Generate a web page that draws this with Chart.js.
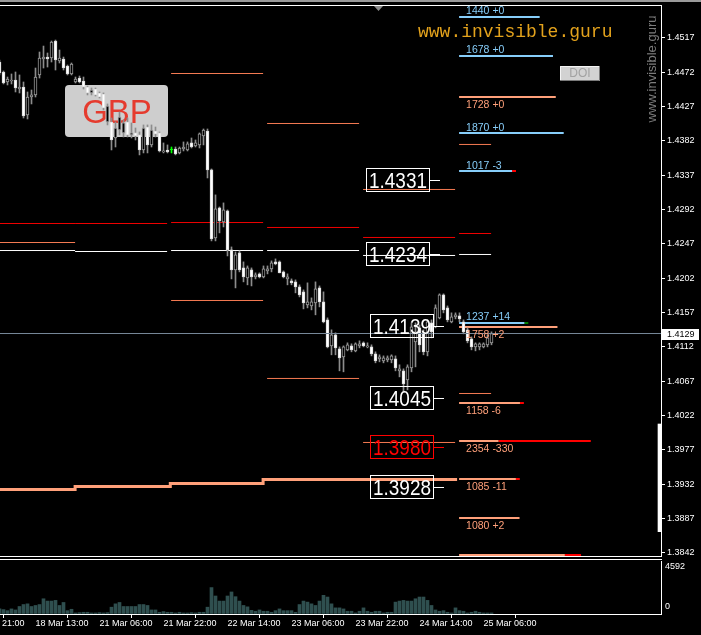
<!DOCTYPE html>
<html>
<head>
<meta charset="utf-8">
<script src="https://cdn.jsdelivr.net/npm/chart.js@4.4.1/dist/chart.umd.min.js"></script>
<style>
  html, body { margin: 0; padding: 0; background: #000; }
  body { width: 701px; height: 635px; position: relative; overflow: hidden; }
  canvas { position: absolute; left: 0; }
  #main { top: 0; }
  #vol { top: 559px; }
</style>
</head>
<body>
<canvas id="main" width="701" height="558"></canvas>
<canvas id="vol" width="701" height="76"></canvas>
<script>
// ===============================
// DATA (GBPUSD H1, first bar is index -1)
// ===============================
const firstBar = -1;

const opens = [
  1.44852, 1.44721, 1.44590, 1.44603, 1.44616, 1.44498, 1.44524, 1.44158, 1.44393, 1.44420,
  1.44682, 1.44891, 1.44917, 1.44904, 1.45127, 1.44865, 1.44891, 1.44799, 1.44695, 1.44590,
  1.44642, 1.44603, 1.44524, 1.44446, 1.44498, 1.44446, 1.44433, 1.44066, 1.44066, 1.43856,
  1.43961, 1.43922, 1.44066, 1.43896, 1.43922, 1.43896, 1.43699, 1.44000, 1.43765, 1.43948,
  1.43922, 1.43673, 1.43699, 1.43699, 1.43712, 1.43660, 1.43712, 1.43699, 1.43791, 1.43751,
  1.43765, 1.43882, 1.43948, 1.43437, 1.42546, 1.42939, 1.42756, 1.42900, 1.42389, 1.42127,
  1.42350, 1.42153, 1.42022, 1.42127, 1.42035, 1.42075, 1.42035, 1.42114, 1.42140, 1.42232,
  1.42232, 1.42101, 1.42009, 1.41983, 1.41970, 1.41904, 1.41839, 1.41669, 1.41655, 1.41695,
  1.41891, 1.41708, 1.41472, 1.41131, 1.41276, 1.41092, 1.40987, 1.41079, 1.41131, 1.41066,
  1.41131, 1.41171, 1.41118, 1.41118, 1.41027, 1.40961, 1.40935, 1.40948, 1.40948, 1.40961,
  1.40804, 1.40804, 1.40686, 1.40843, 1.41184, 1.41367, 1.41302, 1.41053, 1.41433, 1.41380,
  1.41498, 1.41800, 1.41629, 1.41446, 1.41511, 1.41524, 1.41446, 1.41341, 1.41223, 1.41118,
  1.41118, 1.41118, 1.41145, 1.41171
];
const highs = [
  1.44878, 1.44734, 1.44655, 1.44695, 1.44721, 1.44682, 1.44590, 1.44459, 1.44485, 1.44773,
  1.44983, 1.45061, 1.44970, 1.45127, 1.45140, 1.45009, 1.44917, 1.44813, 1.44839, 1.44655,
  1.44668, 1.44655, 1.44537, 1.44511, 1.44511, 1.44459, 1.44446, 1.44302, 1.44118, 1.44066,
  1.44197, 1.44092, 1.44118, 1.44053, 1.43987, 1.43935, 1.44027, 1.44027, 1.44027, 1.44000,
  1.43935, 1.43791, 1.43765, 1.43738, 1.43738, 1.43738, 1.43804, 1.43804, 1.43856, 1.43830,
  1.43922, 1.43974, 1.43974, 1.43450, 1.43110, 1.42952, 1.43005, 1.42913, 1.42428, 1.42363,
  1.42376, 1.42232, 1.42179, 1.42153, 1.42088, 1.42088, 1.42179, 1.42179, 1.42245, 1.42271,
  1.42245, 1.42114, 1.42075, 1.42009, 1.41996, 1.41931, 1.41865, 1.41957, 1.41760, 1.41970,
  1.41917, 1.41839, 1.41498, 1.41341, 1.41302, 1.41118, 1.41131, 1.41171, 1.41158, 1.41171,
  1.41197, 1.41184, 1.41171, 1.41145, 1.41053, 1.41014, 1.41000, 1.41000, 1.41014, 1.41000,
  1.40883, 1.40830, 1.40883, 1.41433, 1.41433, 1.41407, 1.41341, 1.41472, 1.41472, 1.41669,
  1.41813, 1.41813, 1.41655, 1.41564, 1.41564, 1.41564, 1.41472, 1.41367, 1.41249, 1.41171,
  1.41171, 1.41171, 1.41276, 1.41315
];
const lows = [
  1.44682, 1.44564, 1.44551, 1.44564, 1.44459, 1.44446, 1.44118, 1.44105, 1.44302, 1.44393,
  1.44642, 1.44773, 1.44786, 1.44852, 1.44747, 1.44839, 1.44747, 1.44682, 1.44682, 1.44577,
  1.44577, 1.44498, 1.44420, 1.44420, 1.44406, 1.44380, 1.44223, 1.44027, 1.43699, 1.43738,
  1.43896, 1.43869, 1.43869, 1.43856, 1.43830, 1.43634, 1.43660, 1.43660, 1.43738, 1.43869,
  1.43673, 1.43660, 1.43660, 1.43660, 1.43634, 1.43647, 1.43686, 1.43686, 1.43725, 1.43738,
  1.43725, 1.43765, 1.43332, 1.42507, 1.42507, 1.42612, 1.42690, 1.42310, 1.42009, 1.41891,
  1.42101, 1.41970, 1.41931, 1.41917, 1.42009, 1.42022, 1.42022, 1.42075, 1.42101, 1.42193,
  1.42088, 1.42022, 1.41931, 1.41931, 1.41826, 1.41773, 1.41616, 1.41629, 1.41603, 1.41538,
  1.41642, 1.41433, 1.41105, 1.41014, 1.41014, 1.40804, 1.40791, 1.41066, 1.41053, 1.41053,
  1.41105, 1.41118, 1.41105, 1.41000, 1.40909, 1.40922, 1.40909, 1.40922, 1.40909, 1.40804,
  1.40725, 1.40529, 1.40555, 1.40791, 1.40856, 1.41053, 1.41014, 1.41000, 1.41236, 1.41367,
  1.41485, 1.41564, 1.41446, 1.41433, 1.41485, 1.41446, 1.41289, 1.41171, 1.41079, 1.41066,
  1.41079, 1.41105, 1.41118, 1.41145
];
const closes = [
  1.44708, 1.44577, 1.44629, 1.44616, 1.44511, 1.44524, 1.44144, 1.44393, 1.44420, 1.44655,
  1.44904, 1.44917, 1.44891, 1.45114, 1.44878, 1.44904, 1.44773, 1.44695, 1.44826, 1.44629,
  1.44590, 1.44524, 1.44446, 1.44485, 1.44420, 1.44393, 1.44249, 1.44275, 1.43830, 1.43987,
  1.44131, 1.44053, 1.43896, 1.43922, 1.43882, 1.43699, 1.43987, 1.43765, 1.43961, 1.43909,
  1.43686, 1.43686, 1.43673, 1.43699, 1.43647, 1.43725, 1.43738, 1.43778, 1.43738, 1.43791,
  1.43909, 1.43961, 1.43437, 1.42533, 1.42926, 1.42769, 1.42913, 1.42389, 1.42127, 1.42324,
  1.42127, 1.42035, 1.42153, 1.42035, 1.42062, 1.42035, 1.42140, 1.42140, 1.42219, 1.42206,
  1.42088, 1.42035, 1.42035, 1.41957, 1.41904, 1.41800, 1.41695, 1.41708, 1.41708, 1.41878,
  1.41708, 1.41446, 1.41118, 1.41276, 1.41105, 1.40974, 1.41118, 1.41145, 1.41079, 1.41158,
  1.41158, 1.41131, 1.41131, 1.41027, 1.40935, 1.40987, 1.40974, 1.40974, 1.41000, 1.40843,
  1.40830, 1.40634, 1.40856, 1.41380, 1.41315, 1.41145, 1.41053, 1.41446, 1.41315, 1.41629,
  1.41800, 1.41603, 1.41472, 1.41511, 1.41538, 1.41485, 1.41315, 1.41197, 1.41118, 1.41158,
  1.41158, 1.41158, 1.41236, 1.41293
];
const volumes = [
  440, 380, 290, 440, 350, 650, 820, 880, 650, 740,
  820, 1320, 1120, 1120, 1180, 740, 1000, 290, 410, 90,
  120, 150, 150, 90, 90, 120, 90, 120, 590, 880,
  1000, 650, 650, 650, 650, 820, 820, 740, 350, 350,
  150, 210, 150, 150, 90, 150, 90, 90, 120, 90,
  150, 150, 590, 2290, 1560, 1120, 1120, 1560, 1910, 1500,
  1120, 740, 620, 320, 240, 350, 240, 240, 150, 290,
  440, 290, 290, 290, 150, 820, 1120, 1030, 880, 740,
  1120, 1620, 1470, 880, 530, 530, 440, 240, 240, 90,
  240, 530, 240, 150, 240, 240, 90, 150, 150, 1030,
  1120, 1180, 1120, 1120, 1320, 1470, 1470, 1180, 740, 350,
  240, 290, 150, 90, 530, 290, 240, 90, 150, 240,
  150, 90, 90, 90
];
const volumeMax = 4592;

// axis ticks
const priceTicks = [1.3842, 1.3887, 1.3932, 1.3977, 1.4022, 1.4067, 1.4112, 1.4157,
                    1.4202, 1.4247, 1.4292, 1.4337, 1.4382, 1.4427, 1.4472, 1.4517];
const timeTicks = [-8, 8, 24, 40, 56, 72, 88, 104, 120];
const timeLabels = ['17 Mar 21:00', '18 Mar 13:00', '21 Mar 06:00', '21 Mar 22:00', '22 Mar 14:00',
                    '23 Mar 06:00', '23 Mar 22:00', '24 Mar 14:00', '25 Mar 06:00'];

// daily levels (bar ranges)
const segStart = [-0.9, 17.9, 41.9, 65.9, 89.9, 113.9];
const segEnd   = [17.9, 40.9, 64.9, 88.9, 112.9, 121.9];
const segUpper = [null, null, 1.44701, 1.44046, 1.43181, 1.43771];
const segRed   = [1.42735, 1.42735, 1.42748, 1.42683, 1.42552, 1.42604];
const segWhite = [1.42381, 1.42368, 1.42381, 1.42381, 1.42316, 1.42329];
const segLower = [1.42486, null, 1.41726, 1.40704, 1.39865, 1.40507];

// thick stepped level
const stepBars   = [-0.9, 17.9, 41.7, 64.9, 113.4];
const stepLevels = [1.39249, 1.39288, 1.39327, 1.39380, 1.39380];

// option open interest levels (today)
const todayStart = 113.9;
const oiPrice  = [1.45442, 1.44931, 1.44393, 1.43921, 1.43423, 1.41431, 1.41379, 1.40382, 1.39884, 1.39386, 1.38875, 1.38390];
const oiSide   = ['C', 'C', 'P', 'C', 'C', 'C', 'P', 'P', 'P', 'P', 'P', 'P'];
const oiOpen   = [1440, 1678, 1728, 1870, 1017, 1237, 1758, 1158, 2354, 1085, 1080, 2180];
const oiChange = [0, 0, 0, 0, -3, 14, 2, -6, -330, -11, 2, -20];
const oiTail   = [0, 0, 0, 0, 70, 70, 0, 70, 1650, 70, 0, 290];

// key price levels
const levelPrices = [1.4331, 1.4234, 1.4139, 1.4045, 1.3980, 1.3928];
const levelAlert  = [false, false, false, false, true, false];

// range marker on the right edge
const rangeBar = { bar: 164, low: 1.38696, high: 1.40107 };

// ===============================
// SETUP
// ===============================
const FONT = '"Liberation Sans", Arial, sans-serif';
Chart.defaults.font.family = FONT;
const X_MIN = -0.875, X_MAX = 164.375;
const Y_MIN = 1.38377, Y_MAX = 1.45599;
const OI_PER_BAR = 71.5;

const barIndex = opens.map((_, k) => firstBar + k);
const lastClose = closes[closes.length - 1];

function hLine(x0, x1, y, color, width, order) {
    return {
        type: 'line',
        data: [{ x: x0, y: y }, { x: x1, y: y }],
        borderColor: color,
        borderWidth: width,
        pointRadius: 0,
        fill: false,
        order: order
    };
}

const datasets = [];

// ---- daily levels ----
segStart.forEach((s, k) => {
    const e = segEnd[k];
    if (segUpper[k] != null) datasets.push(hLine(s, e, segUpper[k], '#f47a52', 1, 10));
    datasets.push(hLine(s, e, segRed[k], '#ee0000', 1, 10));
    datasets.push(hLine(s, e, segWhite[k], '#ffffff', 1, 10));
    if (segLower[k] != null) datasets.push(hLine(s, e, segLower[k], '#f47a52', 1, 10));
});

// ---- stepped line ----
datasets.push({
    type: 'line',
    data: stepBars.map((x, k) => ({ x: x, y: stepLevels[k] })),
    stepped: 'before',
    borderColor: '#ffa07a',
    borderWidth: 3,
    pointRadius: 0,
    fill: false,
    order: 9
});

// ---- open interest lines ----
oiPrice.forEach((p, k) => {
    const end = todayStart + oiOpen[k] / OI_PER_BAR;
    const mid = end - oiTail[k] / OI_PER_BAR;
    const base = oiSide[k] === 'C' ? '#87cefa' : '#ffa07a';
    datasets.push(hLine(todayStart, mid, p, base, 2, 8));
    if (oiTail[k] > 0) {
        datasets.push(hLine(mid, end, p, oiChange[k] < 0 ? '#ff0000' : '#008000', 2, 8));
    }
});

// ---- range marker ----
datasets.push({
    type: 'bar',
    data: [{ x: rangeBar.bar, y: [rangeBar.low, rangeBar.high] }],
    backgroundColor: '#ffffff',
    barThickness: 3,
    grouped: false,
    order: 7
});

// ---- candles ----
datasets.push({
    type: 'bar',
    data: barIndex.map((x, k) => ({ x: x, y: [lows[k], highs[k]] })),
    backgroundColor: ctx => opens[ctx.dataIndex] === closes[ctx.dataIndex] ? '#00ff00' : '#8c8c8c',
    barThickness: 1,
    grouped: false,
    order: 3
});
datasets.push({
    type: 'bar',
    data: barIndex.map((x, k) => ({ x: x, y: [opens[k], closes[k]] })),
    backgroundColor: ctx => {
        const k = ctx.dataIndex;
        if (opens[k] === closes[k]) return '#00ff00';
        return closes[k] < opens[k] ? '#ffffff' : '#000000';
    },
    borderColor: ctx => {
        const k = ctx.dataIndex;
        if (opens[k] === closes[k]) return '#00ff00';
        return closes[k] < opens[k] ? '#dcdcdc' : '#9a9a9a';
    },
    borderWidth: 1,
    borderSkipped: false,
    minBarLength: 1,
    barThickness: 3,
    grouped: false,
    order: 2
});

// ---- bid line ----
datasets.push(hLine(X_MIN, X_MAX, lastClose, '#778899', 1, 1));

// ===============================
// DECORATION PLUGINS
// ===============================
const mainDecor = {
    id: 'mainDecor',
    beforeDatasetsDraw(chart) {
        const ctx = chart.ctx;
        ctx.save();
        // GBP badge
        ctx.fillStyle = '#cecece';
        ctx.beginPath();
        if (ctx.roundRect) ctx.roundRect(65, 85, 103, 52, 4); else ctx.rect(65, 85, 103, 52);
        ctx.fill();
        ctx.fillStyle = '#e53b2e';
        ctx.font = '33px "Liberation Sans"';
        ctx.textAlign = 'center';
        ctx.textBaseline = 'alphabetic';
        ctx.fillText('GBP', 117, 123);

        // site name
        ctx.fillStyle = '#e3a21c';
        ctx.font = '18px "Liberation Mono"';
        ctx.textAlign = 'left';
        ctx.fillText('www.invisible.guru', 418, 37);

        // DOI button
        ctx.fillStyle = '#d2d2d2';
        ctx.fillRect(560, 66, 40, 15);
        ctx.strokeStyle = '#f4f4f4';
        ctx.beginPath();
        ctx.moveTo(560.5, 80); ctx.lineTo(560.5, 66.5); ctx.lineTo(599, 66.5);
        ctx.stroke();
        ctx.strokeStyle = '#7a7a7a';
        ctx.beginPath();
        ctx.moveTo(560, 80.5); ctx.lineTo(599.5, 80.5); ctx.lineTo(599.5, 66);
        ctx.stroke();
        ctx.fillStyle = '#a2a2a2';
        ctx.font = '12px "Liberation Sans"';
        ctx.textAlign = 'center';
        ctx.textBaseline = 'middle';
        ctx.fillText('DOI', 580, 74);

        // vertical watermark
        ctx.translate(652, 69);
        ctx.rotate(-Math.PI / 2);
        ctx.fillStyle = '#7c7c7c';
        ctx.font = '13px "Liberation Sans"';
        ctx.fillText('www.invisible.guru', 0, 0);
        ctx.restore();
    },
    afterDatasetsDraw(chart) {
        const { ctx, chartArea } = chart;
        const xs = chart.scales.x, ys = chart.scales.y;
        const boxLeft = [366, 366, 370, 370, 370, 370];
        ctx.save();
        // key level boxes
        levelPrices.forEach((p, k) => {
            const py = Math.round(ys.getPixelForValue(p));
            const left = boxLeft[k];
            const col = levelAlert[k] ? '#ff0000' : '#ffffff';
            ctx.strokeStyle = col;
            ctx.lineWidth = 1;
            ctx.strokeRect(left + 0.5, py - 11.5, 63, 23);
            ctx.beginPath();
            ctx.moveTo(left + 64, py + 0.5);
            ctx.lineTo(left + 74, py + 0.5);
            ctx.stroke();
            ctx.fillStyle = col;
            ctx.font = '22px "Liberation Sans"';
            ctx.textAlign = 'left';
            ctx.textBaseline = 'alphabetic';
            ctx.fillText(p.toFixed(4), left + 3, py + 8, 58);
        });

        // open interest labels
        ctx.font = '10.5px "Liberation Sans"';
        ctx.textAlign = 'left';
        ctx.textBaseline = 'alphabetic';
        const x0 = xs.getPixelForValue(todayStart) + 7;
        oiPrice.forEach((p, k) => {
            const py = ys.getPixelForValue(p);
            const ty = oiSide[k] === 'C' ? py - 2.5 : py + 11;
            if (ty > chartArea.bottom) return;
            ctx.fillStyle = oiSide[k] === 'C' ? '#87cefa' : '#ffa07a';
            const sign = oiChange[k] >= 0 ? '+' : '';
            ctx.fillText(oiOpen[k] + ' ' + sign + oiChange[k], x0, ty);
        });
        ctx.restore();
    },
    afterDraw(chart) {
        const { ctx, chartArea: a } = chart;
        const ys = chart.scales.y;
        ctx.save();
        // frame
        ctx.fillStyle = '#9a9a9a';
        ctx.fillRect(0, 0, chart.width, 2);
        ctx.strokeStyle = '#ffffff';
        ctx.lineWidth = 1;
        ctx.beginPath();
        ctx.moveTo(0, a.top + 0.5); ctx.lineTo(a.right + 1, a.top + 0.5);
        ctx.moveTo(0, a.bottom + 0.5); ctx.lineTo(a.right + 1, a.bottom + 0.5);
        ctx.stroke();
        // shift marker
        ctx.fillStyle = '#8c8c8c';
        ctx.beginPath();
        ctx.moveTo(374, 6); ctx.lineTo(383, 6); ctx.lineTo(378.5, 11);
        ctx.closePath();
        ctx.fill();
        // bid label
        const py = Math.round(ys.getPixelForValue(lastClose));
        ctx.fillStyle = '#ffffff';
        ctx.fillRect(a.right + 1, py - 5, 37, 11);
        ctx.fillStyle = '#000000';
        ctx.font = '9px "Liberation Sans"';
        ctx.textAlign = 'left';
        ctx.textBaseline = 'middle';
        ctx.fillText(lastClose.toFixed(4), a.right + 6, py + 0.5);
        ctx.restore();
    }
};

const volDecor = {
    id: 'volDecor',
    afterDraw(chart) {
        const { ctx, chartArea: a } = chart;
        const ys = chart.scales.y;
        ctx.save();
        ctx.strokeStyle = '#ffffff';
        ctx.lineWidth = 1;
        ctx.beginPath();
        ctx.moveTo(0, 0.5); ctx.lineTo(a.right + 1, 0.5);
        ctx.stroke();
        ctx.fillStyle = '#ffffff';
        ctx.font = '9px "Liberation Sans"';
        ctx.textAlign = 'left';
        ctx.textBaseline = 'middle';
        ctx.fillText(String(volumeMax), a.right + 4, ys.getPixelForValue(volumeMax) + 6);
        ctx.fillText('0', a.right + 4, ys.getPixelForValue(0) - 7);
        ctx.restore();
    }
};

// ===============================
// CHARTS
// ===============================
new Chart(document.getElementById('main'), {
    type: 'bar',
    data: { datasets: datasets },
    options: {
        responsive: false,
        animation: false,
        events: [],
        layout: { padding: { top: 5, bottom: 2, left: 0, right: 0 } },
        plugins: { legend: { display: false }, tooltip: { enabled: false } },
        scales: {
            x: { type: 'linear', min: X_MIN, max: X_MAX, offset: false, display: false },
            y: {
                position: 'right',
                min: Y_MIN,
                max: Y_MAX,
                afterFit: s => { s.width = 40; s.paddingTop = 0; s.paddingBottom = 0; },
                afterBuildTicks: s => { s.ticks = priceTicks.map(v => ({ value: v })); },
                ticks: {
                    color: '#ffffff',
                    font: { size: 9 },
                    padding: 2,
                    autoSkip: false,
                    callback: v => Number(v).toFixed(4)
                },
                grid: { drawOnChartArea: false, color: '#ffffff', tickLength: 4 },
                border: { color: '#ffffff' }
            }
        }
    },
    plugins: [mainDecor]
});

new Chart(document.getElementById('vol'), {
    type: 'bar',
    data: {
        datasets: [{
            data: barIndex.map((x, k) => ({ x: x, y: volumes[k] })),
            backgroundColor: '#2f4f4f',
            barThickness: 3,
            grouped: false
        }]
    },
    options: {
        responsive: false,
        animation: false,
        events: [],
        layout: { padding: { top: 2, bottom: 0, left: 0, right: 0 } },
        plugins: { legend: { display: false }, tooltip: { enabled: false } },
        scales: {
            x: {
                type: 'linear',
                min: X_MIN,
                max: X_MAX,
                offset: false,
                afterBuildTicks: s => { s.ticks = timeTicks.map(v => ({ value: v })); },
                afterFit: s => { s.height = 21; s.paddingLeft = 0; s.paddingRight = 0; },
                ticks: {
                    autoSkip: false,
                    maxRotation: 0,
                    align: 'start',
                    padding: 0,
                    color: '#ffffff',
                    font: { size: 9 },
                    callback: (v, i) => timeLabels[i]
                },
                grid: { drawOnChartArea: false, color: '#ffffff', tickLength: 4 },
                border: { color: '#ffffff' }
            },
            y: {
                position: 'right',
                min: 0,
                max: volumeMax,
                afterFit: s => { s.width = 40; s.paddingTop = 0; s.paddingBottom = 0; },
                ticks: { display: false },
                grid: { drawOnChartArea: false, drawTicks: false, color: '#ffffff' },
                border: { color: '#ffffff' }
            }
        }
    },
    plugins: [volDecor]
});
</script>
</body>
</html>
